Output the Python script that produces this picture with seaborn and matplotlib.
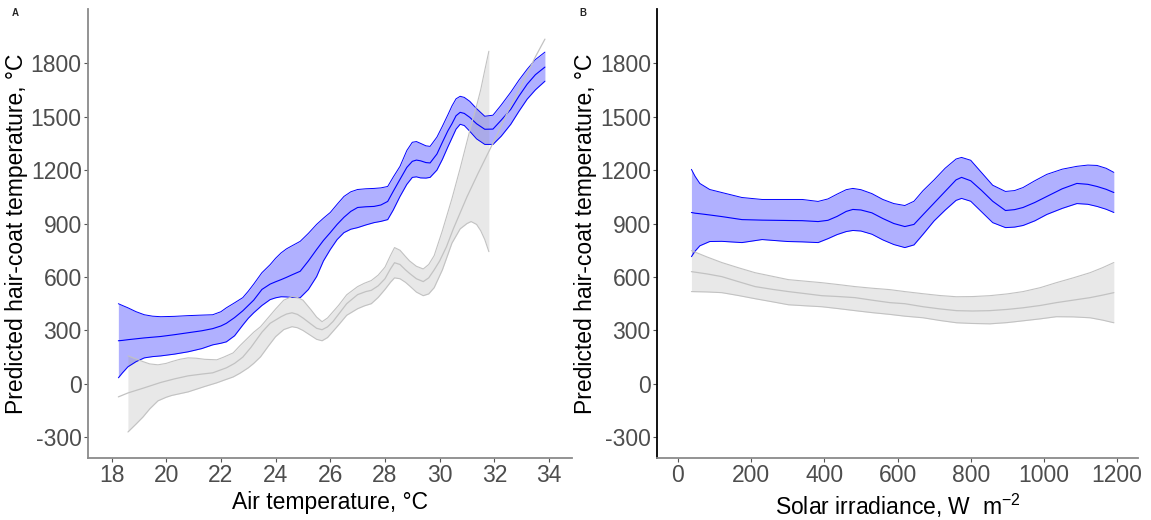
import numpy as np
import pandas as pd
import matplotlib
matplotlib.use("Agg")
import matplotlib.pyplot as plt
import seaborn as sns

# ---- Panel A: air temperature (°C) ----
air_x = [18.25, 18.4, 18.6, 18.9, 19.2, 19.5, 19.8, 20.3, 20.8, 21.3, 21.7, 22.0, 22.2,
         22.5, 22.8, 23.0, 23.2, 23.5, 23.8, 24.0, 24.2, 24.4, 24.6, 24.9, 25.2, 25.5,
         25.75, 26.0, 26.25, 26.5, 26.75, 27.0, 27.3, 27.6, 27.85, 28.1, 28.3, 28.55,
         28.8, 29.0, 29.15, 29.3, 29.5, 29.65, 29.9, 30.1, 30.3, 30.45, 30.6, 30.75,
         30.9, 31.1, 31.35, 31.65, 31.95, 32.25, 32.6, 32.9, 33.2, 33.5, 33.85]
air_blue_lo = [34, 62, 96, 125, 146, 153, 157, 167, 180, 198, 219, 228, 236,
               270, 330, 368, 399, 440, 473, 483, 489, 488, 485, 484, 530, 602,
               690, 754, 810, 849, 868, 877, 892, 905, 912, 922, 975, 1052,
               1120, 1159, 1162, 1156, 1155, 1159, 1200, 1260, 1330, 1380, 1430, 1457,
               1450, 1418, 1375, 1344, 1344, 1390, 1457, 1530, 1598, 1650, 1699]
air_blue_fit = [242, 244, 248, 253, 258, 262, 266, 276, 287, 298, 310, 325, 340,
                372, 410, 440, 470, 530, 560, 573, 585, 598, 612, 632, 690, 754,
                805, 849, 895, 935, 968, 990, 994, 996, 1004, 1024, 1080, 1148,
                1215, 1249, 1256, 1252, 1242, 1240, 1290, 1356, 1420, 1460, 1505, 1524,
                1518, 1496, 1460, 1429, 1430, 1480, 1541, 1615, 1682, 1735, 1778]
air_blue_hi = [450, 440, 427, 405, 388, 380, 377, 379, 383, 386, 388, 405, 427,
               455, 484, 520, 560, 624, 669, 705, 735, 758, 775, 800, 845, 895,
               930, 962, 1008, 1052, 1078, 1091, 1095, 1097, 1100, 1108, 1160, 1221,
               1310, 1356, 1360, 1350, 1336, 1333, 1385, 1446, 1510, 1560, 1600, 1614,
               1608, 1586, 1545, 1502, 1508, 1565, 1637, 1705, 1766, 1820, 1862]

air_grey_x = [18.25, 18.6, 19.2, 19.8, 20.3, 20.8, 21.3, 21.7, 22.2, 22.5, 22.8, 23.1,
              23.5, 23.8, 24.2, 24.4, 24.6, 24.8, 25.0, 25.3, 25.5, 25.7, 25.9, 26.1,
              26.3, 26.6, 27.0, 27.3, 27.5, 27.75, 28.0, 28.2, 28.35, 28.55, 28.75,
              28.9, 29.15, 29.4, 29.6, 29.8, 30.0, 30.25, 30.5, 30.75, 31.0, 31.4,
              31.85, 32.2, 32.5, 32.85, 33.2, 33.5, 33.85]
air_grey_fit = [-73, -51, -22, 8, 28, 45, 55, 62, 90, 115, 150, 205,
                290, 340, 377, 392, 399, 390, 370, 335, 312, 304, 320, 350,
                390, 450, 501, 518, 525, 550, 590, 645, 680, 670, 640,
                620, 590, 574, 595, 640, 690, 770, 870, 960, 1050, 1180,
                1320, 1430, 1530, 1635, 1740, 1835, 1935]

air_grey_band_x = [18.6, 18.9, 19.15, 19.4, 19.7, 20.0, 20.2, 20.5, 20.8, 21.1, 21.4, 21.85,
                   22.1, 22.45, 22.7, 23.0, 23.2, 23.45, 23.75, 24.0, 24.3, 24.6, 24.8,
                   25.0, 25.3, 25.5, 25.7, 25.9, 26.1, 26.3, 26.6, 27.0, 27.25, 27.5,
                   27.75, 28.0, 28.2, 28.35, 28.55, 28.75, 28.9, 29.15, 29.4, 29.6, 29.8,
                   30.1, 30.45, 30.75, 31.0, 31.15, 31.35, 31.5, 31.65, 31.8]
air_grey_lo = [-270, -225, -186, -140, -95, -75, -65, -55, -45, -30, -15, 6,
               20, 39, 60, 90, 115, 152, 215, 265, 305, 321, 315,
               300, 270, 250, 242, 260, 295, 330, 385, 422, 438, 450,
               485, 530, 570, 595, 590, 570, 550, 515, 495, 505, 540,
               640, 790, 870, 900, 911, 895, 860, 810, 742]
air_grey_hi = [157, 140, 125, 112, 107, 115, 125, 138, 146, 144, 138, 135,
               150, 174, 215, 260, 290, 321, 375, 420, 470, 490, 485,
               470, 415, 375, 349, 370, 405, 440, 500, 546, 565, 580,
               610, 655, 720, 765, 750, 715, 690, 660, 645, 670, 720,
               860, 1040, 1210, 1360, 1450, 1560, 1650, 1760, 1867]

# ---- Panel B: solar irradiance (W m-2) ----
sol_x = [37, 47, 60, 87, 120, 175, 230, 300, 340, 383, 410, 435, 460, 478, 500, 530, 560,
         590, 620, 645, 670, 700, 730, 760, 775, 800, 830, 860, 895, 920, 943, 975, 1008,
         1050, 1090, 1120, 1145, 1170, 1191]
sol_blue_lo = [714, 745, 775, 799, 800, 793, 810, 799, 797, 793, 815, 838, 855, 861, 858,
               840, 808, 782, 765, 780, 840, 915, 975, 1030, 1041, 1025, 965, 905, 877,
               880, 889, 915, 951, 985, 1012, 1008, 996, 980, 962]
sol_blue_fit = [962, 958, 955, 948, 939, 922, 919, 917, 916, 911, 918, 940, 968, 979, 976,
                960, 928, 900, 883, 895, 950, 1015, 1080, 1145, 1159, 1140, 1085, 1025,
                973, 978, 990, 1018, 1052, 1095, 1125, 1120, 1108, 1092, 1074]
sol_blue_hi = [1204, 1165, 1125, 1091, 1074, 1046, 1035, 1035, 1035, 1024, 1038, 1065,
               1090, 1097, 1090, 1068, 1035, 1012, 1001, 1025, 1085, 1145, 1210, 1262,
               1271, 1255, 1185, 1115, 1080, 1085, 1102, 1140, 1176, 1205, 1221, 1228,
               1226, 1210, 1187]

sol_grey_x = [37, 80, 120, 165, 211, 260, 302, 350, 393, 440, 484, 530, 579, 620, 670,
              715, 761, 805, 852, 900, 943, 990, 1034, 1080, 1126, 1160, 1191]
sol_grey_lo = [518, 516, 512, 496, 478, 460, 444, 438, 433, 422, 411, 400, 390, 380, 371,
               356, 343, 339, 337, 344, 354, 365, 377, 376, 371, 358, 343]
sol_grey_fit = [630, 617, 602, 574, 546, 530, 518, 506, 495, 490, 484, 470, 456, 450, 433,
                421, 411, 409, 411, 418, 427, 440, 456, 470, 484, 498, 512]
sol_grey_hi = [748, 712, 681, 652, 624, 603, 585, 576, 568, 557, 546, 537, 529, 518, 506,
               496, 489, 490, 495, 505, 518, 540, 568, 595, 624, 652, 681]

y_ticks = [-300, 0, 300, 600, 900, 1200, 1500, 1800]
air_ticks = [18, 20, 22, 24, 26, 28, 30, 32, 34]
sol_ticks = [0, 200, 400, 600, 800, 1000, 1200]

sns.set_theme(style="ticks")
plt.rcParams["font.family"] = ["Liberation Sans", "DejaVu Sans"]
plt.rcParams["axes.unicode_minus"] = False

BLUE = "#0000ff"
BLUE_FILL = (0.0, 0.0, 1.0, 0.31)
GREY_FILL = (0.6, 0.6, 0.6, 0.22)
GREY_LINE = "#c2c2c2"
TICK_GREY = "#4d4d4d"

W, H = 1151, 520
fig = plt.figure(figsize=(W / 100, H / 100), dpi=100)


def add_axes(left, right, top, bottom):
    return fig.add_axes([left / W, 1 - bottom / H, (right - left) / W, (bottom - top) / H])


def draw_band(ax, x, lo, hi, fill, edge, lw):
    ax.fill_between(x, lo, hi, color=fill, linewidth=0)
    ax.plot(x, lo, color=edge, lw=lw)
    ax.plot(x, hi, color=edge, lw=lw)


def draw_fit(ax, x, y, color, lw):
    df = pd.DataFrame({"x": x, "y": y})
    sns.lineplot(data=df, x="x", y="y", ax=ax, color=color, lw=lw,
                 estimator=None, sort=False)


def style(ax, xlim, xticks, xlabel, left_color):
    ax.set_xlim(*xlim)
    ax.set_ylim(-416, 2104)
    ax.set_xticks(xticks)
    ax.set_yticks(y_ticks)
    ax.set_xlabel(xlabel, fontsize=16.5, color="black", labelpad=3)
    ax.set_ylabel("Predicted hair-coat temperature, °C", fontsize=16.5,
                  color="black", labelpad=2)
    ax.tick_params(axis="both", labelsize=16.5, labelcolor=TICK_GREY, color="#555555",
                   length=3, width=0.8, pad=1.5)
    sns.despine(ax=ax)
    ax.spines["bottom"].set_color("#8a8a8a")
    ax.spines["left"].set_color(left_color)
    for s in ("bottom", "left"):
        ax.spines[s].set_linewidth(1.3)
    ax.grid(False)


# Panel A
axA = add_axes(88, 572, 9, 458)
draw_band(axA, air_x, air_blue_lo, air_blue_hi, BLUE_FILL, BLUE, 0.7)
draw_fit(axA, air_x, air_blue_fit, BLUE, 0.8)
draw_band(axA, air_grey_band_x, air_grey_lo, air_grey_hi, GREY_FILL, GREY_LINE, 0.8)
draw_fit(axA, air_grey_x, air_grey_fit, GREY_LINE, 0.9)
style(axA, (17.14, 34.84), air_ticks, "Air temperature, °C", "#8a8a8a")

# Panel B
axB = add_axes(657, 1138, 9, 458)
draw_band(axB, sol_x, sol_blue_lo, sol_blue_hi, BLUE_FILL, BLUE, 0.7)
draw_fit(axB, sol_x, sol_blue_fit, BLUE, 0.8)
draw_band(axB, sol_grey_x, sol_grey_lo, sol_grey_hi, GREY_FILL, GREY_LINE, 0.8)
draw_fit(axB, sol_grey_x, sol_grey_fit, GREY_LINE, 0.9)
style(axB, (-57, 1257), sol_ticks, r"Solar irradiance, W  m$\mathregular{^{-2}}$", "black")

fig.text(15 / W, 1 - 13 / H, "A", fontsize=7, fontweight="bold", ha="center", va="center")
fig.text(583 / W, 1 - 13 / H, "B", fontsize=7, fontweight="bold", ha="center", va="center")

fig.savefig("out.png", dpi=100, facecolor="white")
